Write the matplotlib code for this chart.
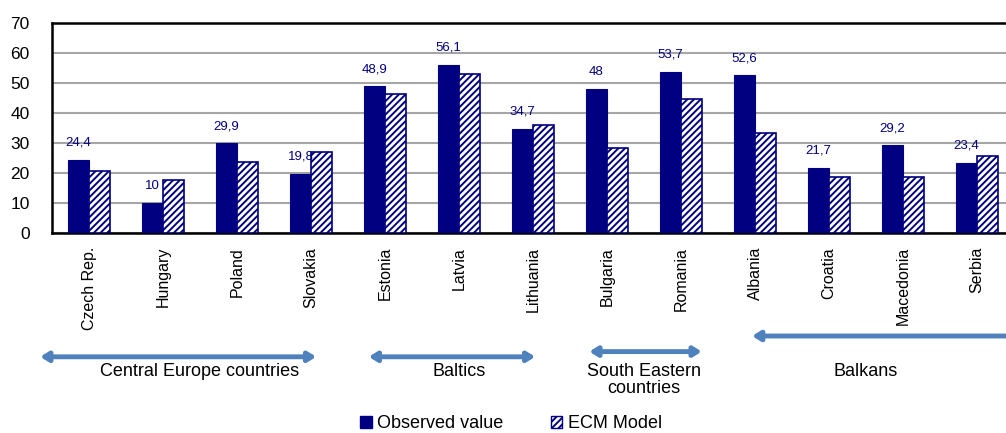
import numpy as np
import matplotlib
matplotlib.use('Agg')
import matplotlib.pyplot as plt
from matplotlib.patches import Patch

COUNTRIES = ['Czech Rep.', 'Hungary', 'Poland', 'Slovakia', 'Estonia', 'Latvia', 'Lithuania',
             'Bulgaria', 'Romania', 'Albania', 'Croatia', 'Macedonia', 'Serbia']
OBSERVED = [24.4, 10, 29.9, 19.8, 48.9, 56.1, 34.7, 48, 53.7, 52.6, 21.7, 29.2, 23.4]
ECM_MODEL = [20.7, 17.7, 23.6, 27.1, 46.4, 53.0, 36.1, 28.2, 44.6, 33.2, 18.8, 18.8, 25.8]

GROUP_NAMES = ['Central Europe countries', 'Baltics', 'South Eastern\ncountries', 'Balkans']
GROUP_FIRST = [0, 4, 7, 9]
GROUP_LAST = [3, 6, 8, 12]

NAVY = '#000080'
ARROW_BLUE = '#4F81BD'

plt.rcParams['font.family'] = ['Liberation Sans', 'DejaVu Sans']
plt.rcParams['hatch.linewidth'] = 1.4
plt.rcParams['hatch.color'] = NAVY


def fmt(v):
    s = '{:g}'.format(v)
    return s.replace('.', ',')


def draw_groups(fig, ax):
    trans = ax.get_xaxis_transform()
    pos = ax.get_position()
    # arrows sit below the tick labels, heights given as figure fractions
    arrow_y = [0.176, 0.176, 0.188, 0.224]
    pads = [(-0.66, 0.07), (-0.22, 0.03), (-0.24, 0.28), (-0.04, 0.6)]
    for name, a, b, y, (pl, pr) in zip(GROUP_NAMES, GROUP_FIRST, GROUP_LAST, arrow_y, pads):
        y_ax = (y - pos.y0) / pos.height
        ax.annotate('', xy=(a + pl, y_ax), xytext=(b + pr, y_ax), xycoords=trans,
                    textcoords=trans, annotation_clip=False,
                    arrowprops=dict(arrowstyle='<|-|>,head_length=0.45,head_width=0.28',
                                    color=ARROW_BLUE, lw=3.5, shrinkA=0, shrinkB=0))
        ly = (0.161 - pos.y0) / pos.height
        ax.text((a + b) / 2, ly, name, transform=trans, ha='center', va='top',
                fontsize=13, linespacing=1.0, clip_on=False)


def main():
    fig = plt.figure(figsize=(10.06, 4.33), dpi=100)
    ax = fig.add_axes([0.0517, 0.4619, 0.9563, 0.485])

    x = np.arange(len(COUNTRIES))
    w = 0.285
    obs = ax.bar(x - w / 2, OBSERVED, width=w, color=NAVY, edgecolor=NAVY, lw=0.8, zorder=3)
    ax.bar(x + w / 2, ECM_MODEL, width=w, color='white', edgecolor=NAVY, hatch='/////',
           lw=1.2, zorder=3)

    for rect, v in zip(obs, OBSERVED):
        ax.annotate(fmt(v), (rect.get_x() + rect.get_width() / 2, rect.get_height()),
                    xytext=(0, 8), textcoords='offset points', ha='center', va='bottom',
                    fontsize=9.5, color=NAVY)

    ax.set_xlim(-0.5, len(COUNTRIES) - 0.5)
    ax.set_ylim(0, 70)
    ax.set_yticks(range(0, 71, 10))
    ax.yaxis.grid(True, color='#a6a6a6', lw=1.5, zorder=0)
    ax.set_axisbelow(True)
    ax.set_xticks(x)
    ax.set_xticklabels(COUNTRIES, rotation=90, va='top', fontsize=11.5)
    ax.tick_params(axis='x', length=0, pad=10)
    ax.tick_params(axis='y', length=0, pad=16, labelsize=12.5)
    for side in ['left', 'top', 'bottom']:
        ax.spines[side].set_color('black')
        ax.spines[side].set_linewidth(1.8)
    ax.spines['right'].set_visible(False)

    draw_groups(fig, ax)

    handles = [Patch(facecolor=NAVY, edgecolor=NAVY, label='Observed value'),
               Patch(facecolor='white', edgecolor=NAVY, hatch='/////', label='ECM Model')]
    fig.legend(handles=handles, loc='center', bbox_to_anchor=(0.508, 0.022), ncol=2,
               frameon=False, fontsize=13, handlelength=0.65, handleheight=0.65,
               handletextpad=0.3, columnspacing=2.6)

    fig.savefig('out.png', dpi=100)


if __name__ == '__main__':
    main()
